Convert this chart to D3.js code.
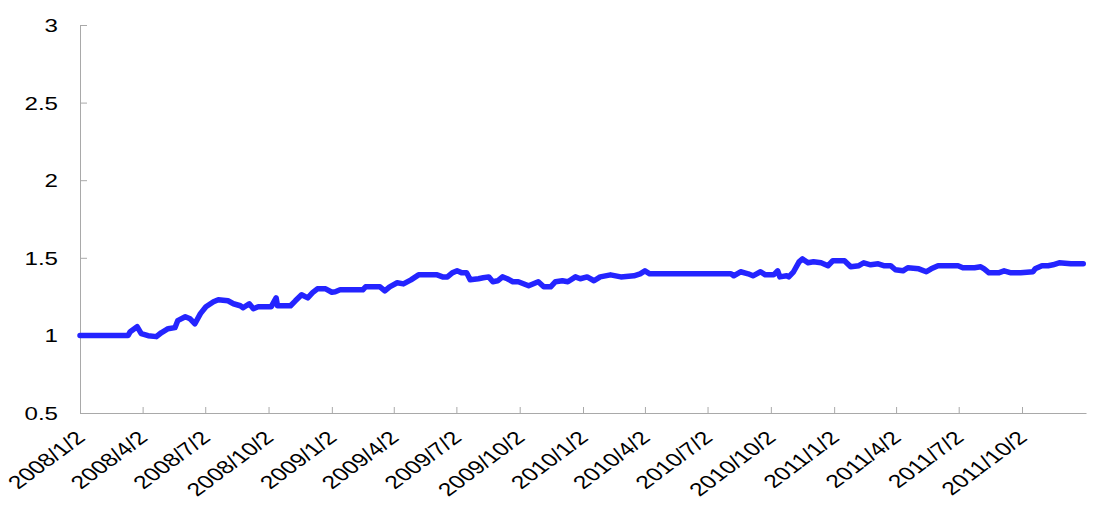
<!DOCTYPE html>
<html>
<head>
<meta charset="utf-8">
<script src="https://cdn.jsdelivr.net/npm/d3@7"></script>
<style>
  body { margin: 0; background: #fff; }
  svg { display: block; }
</style>
</head>
<body>
<div class="chart"></div>
<script>
// series: dates and values
const dates = [
  "2008-01-02","2008-03-12","2008-03-15","2008-03-25","2008-03-31","2008-04-10","2008-04-22","2008-04-29",
  "2008-05-09","2008-05-19","2008-05-23","2008-06-03","2008-06-10","2008-06-17","2008-06-25","2008-07-03",
  "2008-07-14","2008-07-21","2008-08-04","2008-08-12","2008-08-22","2008-08-26","2008-09-04","2008-09-10",
  "2008-09-17","2008-10-06","2008-10-13","2008-10-15","2008-11-03","2008-11-10","2008-11-19","2008-11-28",
  "2008-12-05","2008-12-12","2008-12-24","2009-01-02","2009-01-07","2009-01-14","2009-02-16","2009-02-20",
  "2009-03-13","2009-03-20","2009-03-27","2009-04-07","2009-04-16","2009-04-27","2009-05-08","2009-06-04",
  "2009-06-12","2009-06-19","2009-06-26","2009-07-03","2009-07-10","2009-07-17","2009-07-22","2009-08-03",
  "2009-08-10","2009-08-18","2009-08-24","2009-08-31","2009-09-07","2009-09-14","2009-09-22","2009-09-30",
  "2009-10-15","2009-10-29","2009-11-06","2009-11-16","2009-11-23","2009-12-03","2009-12-11","2009-12-22",
  "2009-12-29","2010-01-08","2010-01-18","2010-01-27","2010-02-11","2010-02-26","2010-03-17","2010-03-26",
  "2010-04-02","2010-04-09","2010-08-05","2010-08-09","2010-08-19","2010-08-30","2010-09-06","2010-09-17",
  "2010-09-24","2010-10-06","2010-10-12","2010-10-15","2010-10-25","2010-10-28","2010-11-04","2010-11-12",
  "2010-11-17","2010-11-25","2010-12-03","2010-12-14","2010-12-24","2010-12-31","2011-01-07","2011-01-17",
  "2011-01-26","2011-02-07","2011-02-14","2011-02-24","2011-03-07","2011-03-15","2011-03-25","2011-04-01",
  "2011-04-12","2011-04-19","2011-05-05","2011-05-16","2011-05-23","2011-06-02","2011-07-01","2011-07-08",
  "2011-07-25","2011-08-03","2011-08-08","2011-08-15","2011-08-29","2011-09-06","2011-09-16","2011-09-30",
  "2011-10-18","2011-10-21","2011-10-31","2011-11-09","2011-11-16","2011-11-25","2011-12-12","2011-12-30"
];
const values = [
  1.000,1.000,1.024,1.056,1.011,0.998,0.992,1.017,
  1.043,1.050,1.095,1.120,1.107,1.075,1.140,1.185,
  1.217,1.230,1.223,1.204,1.191,1.178,1.204,1.172,
  1.185,1.185,1.242,1.191,1.191,1.223,1.262,1.242,
  1.275,1.300,1.300,1.278,1.281,1.294,1.294,1.313,
  1.313,1.287,1.313,1.339,1.332,1.358,1.390,1.390,
  1.377,1.377,1.403,1.416,1.403,1.403,1.358,1.365,
  1.371,1.377,1.346,1.352,1.377,1.365,1.346,1.346,
  1.320,1.346,1.313,1.313,1.346,1.352,1.346,1.377,
  1.365,1.377,1.352,1.377,1.390,1.377,1.384,1.397,
  1.416,1.397,1.397,1.384,1.410,1.397,1.384,1.410,
  1.390,1.390,1.416,1.377,1.384,1.377,1.410,1.474,
  1.493,1.468,1.474,1.468,1.449,1.481,1.481,1.481,
  1.442,1.449,1.468,1.455,1.461,1.449,1.449,1.423,
  1.416,1.436,1.429,1.410,1.429,1.449,1.449,1.436,
  1.436,1.442,1.429,1.403,1.403,1.416,1.403,1.403,
  1.410,1.429,1.449,1.449,1.455,1.468,1.461,1.461
];

// axis ticks
const xTicks = [
  "2008-01-02","2008-04-02","2008-07-02","2008-10-02",
  "2009-01-02","2009-04-02","2009-07-02","2009-10-02",
  "2010-01-02","2010-04-02","2010-07-02","2010-10-02",
  "2011-01-02","2011-04-02","2011-07-02","2011-10-02"
];
const yTicks = [0.5, 1, 1.5, 2, 2.5, 3];

const width = 1098, height = 507;
const margin = { top: 25, right: 12, bottom: 94, left: 80 };
const stretch = 1.34; // the source picture is widened

const parse = d3.timeParse("%Y-%m-%d");
const data = dates.map((d, i) => ({ date: parse(d), value: values[i] }));

const svg = d3.select(".chart")
  .append("svg")
  .attr("width", width)
  .attr("height", height);

const xScale = d3.scaleTime()
  .domain([parse("2008-01-02"), parse("2012-01-03")])
  .range([margin.left, width - margin.right]);

const yScale = d3.scaleLinear()
  .domain([0.5, 3])
  .range([height - margin.bottom, margin.top]);

const axisColor = "#a9a9a9";
const font = "'Liberation Sans', Arial, Helvetica, sans-serif";

// y axis, ticks pointing into the plot
const yAxisG = svg.append("g")
  .attr("transform", `translate(${margin.left},0)`)
  .call(d3.axisLeft(yScale).tickValues(yTicks).tickSizeInner(-7).tickSizeOuter(0).tickFormat(d3.format("")));

yAxisG.select(".domain").attr("stroke", axisColor);
yAxisG.selectAll(".tick line").attr("stroke", axisColor);
yAxisG.selectAll(".tick text")
  .attr("x", 0)
  .attr("dy", "0.36em")
  .attr("text-anchor", "end")
  .attr("transform", `translate(-22,0) scale(${stretch},1)`)
  .attr("font-family", font)
  .attr("font-size", 18)
  .attr("fill", "#000");

// x axis
const xAxisG = svg.append("g")
  .attr("transform", `translate(0,${yScale(0.5)})`)
  .call(d3.axisBottom(xScale)
    .tickValues(xTicks.map(parse))
    .tickSizeInner(-6)
    .tickSizeOuter(0)
    .tickFormat(d3.timeFormat("%Y/%-m/%-d")));

xAxisG.select(".domain").attr("stroke", axisColor);
xAxisG.selectAll(".tick line").attr("stroke", axisColor);
xAxisG.selectAll(".tick text")
  .attr("y", 0)
  .attr("dy", 0)
  .attr("text-anchor", "end")
  .attr("transform", `translate(6,26) scale(${stretch},1) rotate(-45)`)
  .attr("font-family", font)
  .attr("font-size", 18.5)
  .attr("fill", "#000");

// the series
const line = d3.line()
  .x(d => xScale(d.date))
  .y(d => yScale(d.value));

svg.append("path")
  .datum(data)
  .attr("fill", "none")
  .attr("stroke", "#2424ff")
  .attr("stroke-width", 5.5)
  .attr("stroke-linejoin", "round")
  .attr("stroke-linecap", "round")
  .attr("d", line);
</script>
</body>
</html>
